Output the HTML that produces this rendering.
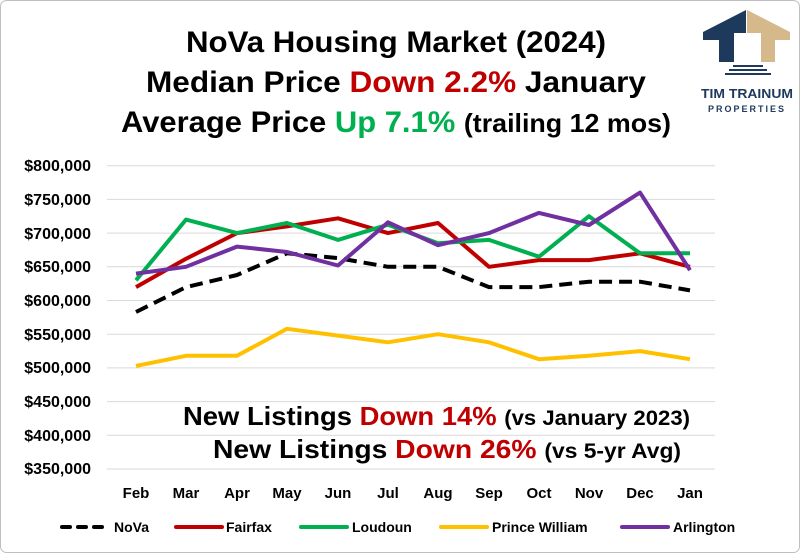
<!DOCTYPE html>
<html><head><meta charset="utf-8"><style>
html,body{margin:0;padding:0;background:#fff}
svg{display:block;font-family:"Liberation Sans",sans-serif}
</style></head><body>
<svg width="800" height="553" viewBox="0 0 800 553" xmlns="http://www.w3.org/2000/svg">
<rect x="0.5" y="0.5" width="799" height="552" rx="6" fill="#fff" stroke="#bfbfbf"/>
<g>
<polygon points="703,32 746,10 746,33 734,33 734,62 719,62 719,40 703,40" fill="#1d3a5c"/>
<polygon points="747,10 790,32 790,40 775,40 775,62 761,62 761,33 747,33" fill="#d6b98a"/>
<rect x="733" y="65" width="30" height="2" fill="#1d3a5c"/>
<rect x="729" y="69" width="38" height="2" fill="#1d3a5c"/>
<rect x="725" y="73" width="46" height="2" fill="#1d3a5c"/>
<text x="747" y="98" text-anchor="middle" font-size="13" font-weight="bold" fill="#1d3a5c" textLength="92" lengthAdjust="spacingAndGlyphs">TIM TRAINUM</text>
<text x="747" y="112" text-anchor="middle" font-size="9" font-weight="bold" fill="#1d3a5c" letter-spacing="2" textLength="78" lengthAdjust="spacingAndGlyphs">PROPERTIES</text>
</g>
<g font-weight="bold" font-size="30" text-anchor="middle">
<text x="396" y="52" textLength="420" lengthAdjust="spacingAndGlyphs">NoVa Housing Market (2024)</text>
<text x="396" y="92" textLength="500" lengthAdjust="spacingAndGlyphs">Median Price <tspan fill="#c00000">Down 2.2%</tspan> January</text>
<text x="396" y="132" textLength="550" lengthAdjust="spacingAndGlyphs">Average Price <tspan fill="#00b050">Up 7.1%</tspan> <tspan font-size="26">(trailing 12 mos)</tspan></text>
</g>
<g stroke="#d9d9d9" stroke-width="1">
<line x1="107" x2="715" y1="165.7" y2="165.7"/><line x1="107" x2="715" y1="199.4" y2="199.4"/>
<line x1="107" x2="715" y1="233.1" y2="233.1"/><line x1="107" x2="715" y1="266.8" y2="266.8"/>
<line x1="107" x2="715" y1="300.5" y2="300.5"/><line x1="107" x2="715" y1="334.2" y2="334.2"/>
<line x1="107" x2="715" y1="367.9" y2="367.9"/><line x1="107" x2="715" y1="401.6" y2="401.6"/>
<line x1="107" x2="715" y1="435.3" y2="435.3"/><line x1="107" x2="715" y1="469" y2="469"/>
</g>
<g font-weight="bold" font-size="16" text-anchor="end">
<text x="91" y="171">$800,000</text><text x="91" y="205">$750,000</text>
<text x="91" y="239">$700,000</text><text x="91" y="272">$650,000</text>
<text x="91" y="306">$600,000</text><text x="91" y="340">$550,000</text>
<text x="91" y="373">$500,000</text><text x="91" y="407">$450,000</text>
<text x="91" y="441">$400,000</text><text x="91" y="474">$350,000</text>
</g>
<g font-weight="bold" font-size="15" text-anchor="middle">
<text x="136" y="498">Feb</text><text x="186" y="498">Mar</text><text x="237" y="498">Apr</text>
<text x="287" y="498">May</text><text x="338" y="498">Jun</text><text x="388" y="498">Jul</text>
<text x="438" y="498">Aug</text><text x="489" y="498">Sep</text><text x="539" y="498">Oct</text>
<text x="589" y="498">Nov</text><text x="640" y="498">Dec</text><text x="690" y="498">Jan</text>
</g>
<g fill="none" stroke-width="4" stroke-linejoin="round">
<polyline stroke="#ffc000" points="136,365.9 186,355.8 237,355.8 287,328.8 338,335.6 388,342.3 438,334.2 489,342.3 539,359.2 589,355.8 640,351.1 690,359.2"/>
<polyline stroke="#000" stroke-dasharray="13,7" points="136,312 186,287.1 237,275.0 287,253.3 338,258.1 388,266.8 438,266.8 489,287.1 539,287.1 589,281.7 640,281.7 690,290.4"/>
<polyline stroke="#c00000" points="136,287.1 186,258.8 237,233.1 287,226.4 338,218.3 388,233.1 438,223.0 489,266.8 539,260.1 589,260.1 640,253.3 690,266.8"/>
<polyline stroke="#00b050" points="136,280.3 186,219.6 237,233.1 287,223.0 338,239.9 388,224.7 438,243.3 489,239.9 539,256.7 589,216.2 640,253.3 690,253.3"/>
<polyline stroke="#7030a0" points="136,273.6 186,266.8 237,246.6 287,252.0 338,265.5 388,222.3 438,245.2 489,233.1 539,212.9 589,225.0 640,192.6 690,270.2"/>
</g>
<g font-weight="bold" font-size="26">
<text x="183" y="425" textLength="507" lengthAdjust="spacingAndGlyphs">New Listings <tspan fill="#c00000">Down 14%</tspan> <tspan font-size="21">(vs January 2023)</tspan></text>
<text x="213" y="458" textLength="468" lengthAdjust="spacingAndGlyphs">New Listings <tspan fill="#c00000">Down 26%</tspan> <tspan font-size="21">(vs 5-yr Avg)</tspan></text>
</g>
<g stroke-width="4" stroke-linecap="round">
<line x1="62" x2="110" y1="527" y2="527" stroke="#000" stroke-dasharray="8,8"/>
<line x1="176" x2="222" y1="527" y2="527" stroke="#c00000"/>
<line x1="301" x2="347" y1="527" y2="527" stroke="#00b050"/>
<line x1="441" x2="487" y1="527" y2="527" stroke="#ffc000"/>
<line x1="622" x2="668" y1="527" y2="527" stroke="#7030a0"/>
</g>
<g font-weight="bold" font-size="14">
<text x="114" y="532">NoVa</text><text x="226" y="532">Fairfax</text><text x="352" y="532">Loudoun</text>
<text x="492" y="532">Prince William</text><text x="673" y="532">Arlington</text>
</g>
</svg>
</body></html>
